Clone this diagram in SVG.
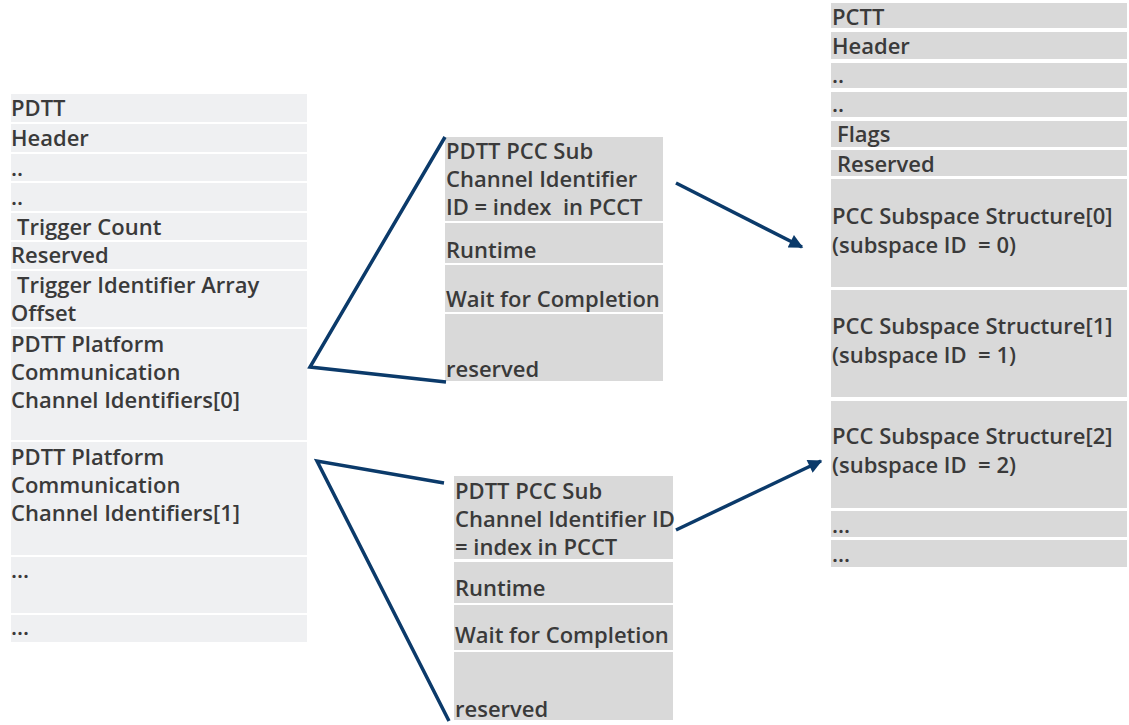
<svg xmlns="http://www.w3.org/2000/svg" width="1129" height="725" viewBox="0 0 1129 725">
<defs>
<style>
.l{fill:#eff0f2}
.d{fill:#d9d9d9}
text{font-family:"Open Sans","Noto Sans","DejaVu Sans",sans-serif;font-size:22px;font-weight:600;fill:#3a3a3a;white-space:pre}
.c{stroke:#0b3a6a;stroke-width:3.5;fill:none;stroke-linejoin:miter}
</style>
<marker id="ah" viewBox="0 0 10 10" refX="9" refY="5" markerWidth="4.2" markerHeight="4" orient="auto" markerUnits="strokeWidth">
<path d="M0,0 L10,5 L0,10 z" fill="#0b3a6a"/>
</marker>
</defs>
<rect width="1129" height="725" fill="#fff"/>
<g id="pdtt">
<rect class="l" x="11" y="94" width="296" height="28"/>
<rect class="l" x="11" y="124" width="296" height="28"/>
<rect class="l" x="11" y="154" width="296" height="27"/>
<rect class="l" x="11" y="183" width="296" height="28"/>
<rect class="l" x="11" y="213" width="296" height="27"/>
<rect class="l" x="11" y="242" width="296" height="27"/>
<rect class="l" x="11" y="271" width="296" height="56"/>
<rect class="l" x="11" y="329" width="296" height="111"/>
<rect class="l" x="11" y="442" width="296" height="113"/>
<rect class="l" x="11" y="557" width="296" height="56"/>
<rect class="l" x="11" y="615" width="296" height="27"/>
<text x="11" y="116">PDTT</text>
<text x="11" y="146">Header</text>
<text x="11" y="176">..</text>
<text x="11" y="205">..</text>
<text x="17" y="235">Trigger Count</text>
<text x="11" y="263">Reserved</text>
<text x="17" y="293">Trigger Identifier Array</text>
<text x="11" y="321">Offset</text>
<text x="11" y="352">PDTT Platform</text>
<text x="11" y="380">Communication</text>
<text x="11" y="408">Channel Identifiers[0]</text>
<text x="11" y="465">PDTT Platform</text>
<text x="11" y="493">Communication</text>
<text x="11" y="521">Channel Identifiers[1]</text>
<text x="11" y="578">...</text>
<text x="11" y="635">...</text>
</g>
<g id="sub0">
<rect class="d" x="445" y="137" width="218" height="84"/>
<rect class="d" x="445" y="223" width="218" height="40"/>
<rect class="d" x="445" y="265" width="218" height="47"/>
<rect class="d" x="445" y="314" width="218" height="67"/>
<text x="446" y="159">PDTT PCC Sub</text>
<text x="446" y="187">Channel Identifier</text>
<text x="446" y="215" xml:space="preserve">ID = index  in PCCT</text>
<text x="446" y="258">Runtime</text>
<text x="446" y="307">Wait for Completion</text>
<text x="446" y="377">reserved</text>
</g>
<g id="sub1">
<rect class="d" x="454" y="476" width="219" height="83"/>
<rect class="d" x="454" y="562" width="219" height="41"/>
<rect class="d" x="454" y="605" width="219" height="45"/>
<rect class="d" x="454" y="652" width="219" height="68"/>
<text x="455" y="499">PDTT PCC Sub</text>
<text x="455" y="527">Channel Identifier ID</text>
<text x="455" y="555">= index in PCCT</text>
<text x="455" y="596">Runtime</text>
<text x="455" y="643">Wait for Completion</text>
<text x="455" y="717">reserved</text>
</g>
<g id="pcct">
<rect class="d" x="831" y="3" width="296" height="25"/>
<rect class="d" x="831" y="32" width="296" height="27"/>
<rect class="d" x="831" y="63" width="296" height="25"/>
<rect class="d" x="831" y="92" width="296" height="25"/>
<rect class="d" x="831" y="121" width="296" height="26"/>
<rect class="d" x="831" y="150" width="296" height="26"/>
<rect class="d" x="831" y="179" width="296" height="108"/>
<rect class="d" x="831" y="290" width="296" height="107"/>
<rect class="d" x="831" y="401" width="296" height="107"/>
<rect class="d" x="831" y="511" width="296" height="26"/>
<rect class="d" x="831" y="540" width="296" height="27"/>
<text x="832" y="25">PCTT</text>
<text x="832" y="54">Header</text>
<text x="832" y="83">..</text>
<text x="832" y="112">..</text>
<text x="837" y="142">Flags</text>
<text x="837" y="172">Reserved</text>
<text x="832" y="224">PCC Subspace Structure[0]</text>
<text x="832" y="253" xml:space="preserve">(subspace ID  = 0)</text>
<text x="832" y="334">PCC Subspace Structure[1]</text>
<text x="832" y="363" xml:space="preserve">(subspace ID  = 1)</text>
<text x="832" y="444">PCC Subspace Structure[2]</text>
<text x="832" y="473" xml:space="preserve">(subspace ID  = 2)</text>
<text x="832" y="533">...</text>
<text x="832" y="562">...</text>
</g>
<g id="connectors">
<polyline class="c" points="445,137 310,367 446,382"/>
<polyline class="c" points="444,483 317,461 449,721"/>
<line class="c" x1="676" y1="183" x2="802" y2="247" marker-end="url(#ah)"/>
<line class="c" x1="676" y1="530" x2="821" y2="461" marker-end="url(#ah)"/>
</g>
</svg>
